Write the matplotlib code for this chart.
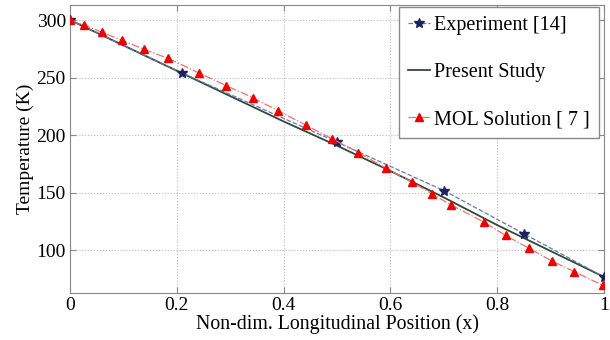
#!/usr/bin/env python3
"""Temperature along the non-dimensional longitudinal position: experiment vs present study vs MOL."""

import matplotlib

matplotlib.use("Agg")
import matplotlib.pyplot as plt

plt.rcParams["font.family"] = ["Liberation Serif", "DejaVu Serif"]

# --- data ---
exp_x = [0.0, 0.21, 0.50, 0.70, 0.85, 1.0]
exp_t = [300, 254, 194, 152, 114.5, 77]

study_x = [0.0, 0.1, 0.2, 0.3, 0.4, 0.5, 0.6, 0.7, 0.8, 0.9, 1.0]
study_t = [300, 278, 256, 234, 212, 191, 169, 146, 122, 99.5, 77]

mol_x = [0.0, 0.027, 0.060, 0.097, 0.139, 0.184, 0.241, 0.292, 0.343, 0.390,
         0.441, 0.490, 0.540, 0.592, 0.640, 0.677, 0.713, 0.775, 0.816, 0.859,
         0.903, 0.944, 0.998]
mol_t = [300, 295.7, 289.3, 282.6, 274.5, 266.7, 254.2, 243.2, 232.5, 221.2,
         209.0, 197.1, 185.0, 171.3, 159.4, 149.3, 139.7, 124.6, 113.0, 102.0,
         90.7, 81.7, 69.6]

x_ticks = [0, 0.2, 0.4, 0.6, 0.8, 1]
x_labels = ["0", "0.2", "0.4", "0.6", "0.8", "1"]
y_ticks = [100, 150, 200, 250, 300]

fig = plt.figure(figsize=(6.1, 3.4), dpi=100)
ax = fig.add_axes([0.1148, 0.138, 0.8754, 0.847])

ax.plot(exp_x, exp_t, linestyle="--", color="#6878b8", linewidth=0.9,
        marker="*", markersize=7, markerfacecolor="#1c2260",
        markeredgecolor="#1c2260", label="Experiment [14]", zorder=3)
ax.plot(study_x, study_t, linestyle="-", color="#2d4a38", linewidth=1.3,
        label="Present Study", zorder=2)
ax.plot(mol_x, mol_t, linestyle="-.", color="#f07070", linewidth=0.9,
        marker="^", markersize=5.5, markerfacecolor="#ee0000",
        markeredgecolor="#ee0000", label="MOL Solution [ 7 ]", zorder=3)

ax.set_xlim(0, 1)
ax.set_ylim(63, 313)
ax.set_xticks(x_ticks)
ax.set_xticklabels(x_labels)
ax.set_yticks(y_ticks)
ax.tick_params(direction="in", top=True, right=True, labelsize=14,
               color="#888888", length=4, pad=3)
for s in ax.spines.values():
    s.set_color("#888888")
ax.grid(True, linestyle=":", color="#bbbbbb", linewidth=0.8)

ax.set_xlabel("Non-dim. Longitudinal Position (x)", fontsize=14.3, labelpad=0)
ax.set_ylabel("Temperature (K)", fontsize=14, labelpad=2)

leg = ax.legend(loc="upper right", bbox_to_anchor=(0.99, 0.993), fontsize=14.5,
                labelspacing=1.38, handlelength=1.1, handletextpad=0.2,
                borderpad=0.45, borderaxespad=0, fancybox=False, framealpha=1)
leg.get_frame().set_edgecolor("#888888")
leg.get_frame().set_linewidth(1.0)

fig.savefig("out.png", dpi=100)
